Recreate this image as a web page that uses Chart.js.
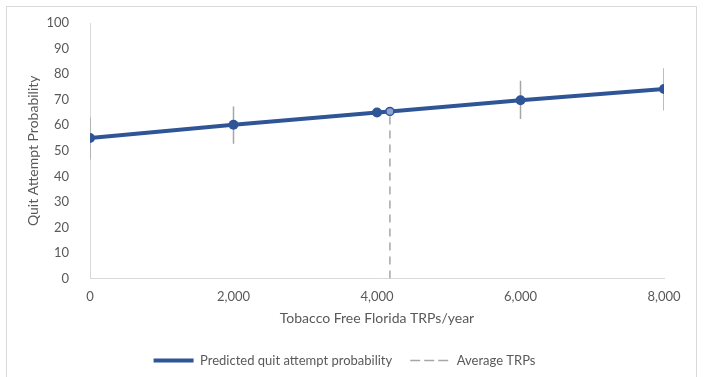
<!DOCTYPE html>
<html>
<head>
<meta charset="utf-8">
<script src="https://cdn.jsdelivr.net/npm/chart.js@4"></script>
<style>
  body { margin: 0; background: #fff; }
  #wrap { position: absolute; left: 6px; top: 6px; width: 691px; height: 371px; border: 1px solid #d9d9d9; border-bottom: none; box-sizing: border-box; }
</style>
</head>
<body>
<div id="wrap"><canvas id="c"></canvas></div>
<script>
// TRPs per year vs predicted probability
const trps = [0, 2000, 4000, 4180, 6000, 8000];
const probability = [55, 60.2, 65, 65.4, 69.8, 74.2];
// confidence bars (no bar at 4000 / the average point)
const barX = [0, 2000, 6000, 8000];
const barLow = [46.6, 52.8, 62.4, 65.8];
const barHigh = [63, 67.3, 77.4, 82.3];
const averageTrps = 4180;
const xTicks = [0, 2000, 4000, 6000, 8000];

const blue = "#2F5597";
const grey = "#A6A6A6";

const barPoints = [];
barX.forEach((x, i) => {
  barPoints.push({ x: x, y: barLow[i] });
  barPoints.push({ x: x, y: barHigh[i] });
  barPoints.push({ x: x, y: null });
});

const font = { family: "Lato, 'Liberation Sans', sans-serif", size: 13 };
const isAverage = (ctx) => trps[ctx.dataIndex] === averageTrps;

new Chart("c", {
  type: "scatter",
  data: {
    datasets: [
      {
        label: "Predicted quit attempt probability",
        data: trps.map((x, i) => ({ x: x, y: probability[i] })),
        showLine: true,
        borderColor: blue,
        backgroundColor: blue,
        borderWidth: 4,
        // the average point shows a paler centre
        pointRadius: (ctx) => (isAverage(ctx) ? 4 : 5),
        pointBackgroundColor: (ctx) => (isAverage(ctx) ? "#8FA5CF" : blue),
        pointBorderColor: blue,
        pointBorderWidth: (ctx) => (isAverage(ctx) ? 1.5 : 0),
        pointHoverRadius: 5,
        order: 1,
      },
      {
        label: "Average TRPs",
        data: [{ x: averageTrps, y: 0 }, { x: averageTrps, y: probability[3] }],
        showLine: true,
        borderColor: grey,
        backgroundColor: "rgba(0,0,0,0)",
        borderWidth: 1.5,
        borderDash: [8, 6],
        pointRadius: 0,
        order: 2,
      },
      {
        label: "bars",
        data: barPoints,
        showLine: true,
        spanGaps: false,
        borderColor: grey,
        borderWidth: 1.5,
        pointRadius: 0,
        order: 3,
      },
    ],
  },
  options: {
    responsive: true,
    maintainAspectRatio: false,
    animation: false,
    layout: { padding: { left: 18, right: 32, top: 16, bottom: 0 } },
    plugins: {
      tooltip: { enabled: false },
      legend: {
        position: "bottom",
        labels: {
          color: "#595959",
          font: font,
          boxWidth: 40,
          boxHeight: 0,
          padding: 18,
          filter: (item) => item.text !== "bars",
        },
      },
    },
    scales: {
      x: {
        type: "linear",
        min: 0,
        max: 8000,
        afterBuildTicks: (axis) => { axis.ticks = xTicks.map((v) => ({ value: v })); },
        grid: { display: false, drawTicks: false },
        border: { color: "#d9d9d9" },
        ticks: {
          color: "#595959",
          font: font,
          padding: 10,
          callback: (v) => v.toLocaleString("en-US"),
        },
        title: { display: true, text: "Tobacco Free Florida TRPs/year", color: "#595959", font: { family: font.family, size: 14 }, padding: { top: -4, bottom: 9 } },
      },
      y: {
        min: 0,
        max: 100,
        ticks: { stepSize: 10, color: "#595959", font: font, padding: 21 },
        grid: { display: false, drawTicks: false },
        border: { color: "#d9d9d9" },
        title: { display: true, text: "Quit Attempt Probability", color: "#595959", font: { family: font.family, size: 14 }, padding: 0 },
        afterFit: (scale) => {
          scale.width = 65;
          scale.paddingTop = 8;
          scale.paddingBottom = 8;
        },
      },
    },
  },
});
</script>
</body>
</html>
